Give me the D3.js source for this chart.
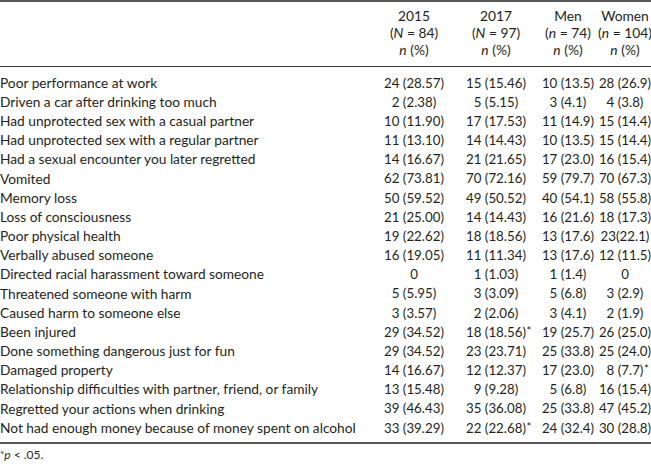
<!DOCTYPE html>
<html>
<head>
<meta charset="utf-8">
<script src="https://cdn.jsdelivr.net/npm/d3@7"></script>
<style>
  html, body { margin: 0; padding: 0; background: #fff; }
  svg { display: block; }
  text { font-family: "Lato", "Open Sans", sans-serif; fill: #231f20; }
</style>
</head>
<body>
<script>
// ---------- data ----------
const columns = ["2015", "2017", "Men", "Women"];
const columnN = ["84", "97", "74", "104"];
const columnNSymbol = ["N", "N", "n", "n"];

const rowLabels = [
  "Poor performance at work",
  "Driven a car after drinking too much",
  "Had unprotected sex with a casual partner",
  "Had unprotected sex with a regular partner",
  "Had a sexual encounter you later regretted",
  "Vomited",
  "Memory loss",
  "Loss of consciousness",
  "Poor physical health",
  "Verbally abused someone",
  "Directed racial harassment toward someone",
  "Threatened someone with harm",
  "Caused harm to someone else",
  "Been injured",
  "Done something dangerous just for fun",
  "Damaged property",
  "Relationship difficulties with partner, friend, or family",
  "Regretted your actions when drinking",
  "Not had enough money because of money spent on alcohol"
];

const n2015 = [24, 2, 10, 11, 14, 62, 50, 21, 19, 16, 0, 5, 3, 29, 29, 14, 13, 39, 33];
const p2015 = [28.57, 2.38, 11.90, 13.10, 16.67, 73.81, 59.52, 25.00, 22.62, 19.05, 0, 5.95, 3.57, 34.52, 34.52, 16.67, 15.48, 46.43, 39.29];

const n2017 = [15, 5, 17, 14, 21, 70, 49, 14, 18, 11, 1, 3, 2, 18, 23, 12, 9, 35, 22];
const p2017 = [15.46, 5.15, 17.53, 14.43, 21.65, 72.16, 50.52, 14.43, 18.56, 11.34, 1.03, 3.09, 2.06, 18.56, 23.71, 12.37, 9.28, 36.08, 22.68];

const nMen = [10, 3, 11, 10, 17, 59, 40, 16, 13, 13, 1, 5, 3, 19, 25, 17, 5, 25, 24];
const pMen = [13.5, 4.1, 14.9, 13.5, 23.0, 79.7, 54.1, 21.6, 17.6, 17.6, 1.4, 6.8, 4.1, 25.7, 33.8, 23.0, 6.8, 33.8, 32.4];

const nWomen = [28, 4, 15, 15, 16, 70, 58, 18, 23, 12, 0, 3, 2, 26, 25, 8, 16, 47, 30];
const pWomen = [26.9, 3.8, 14.4, 14.4, 15.4, 67.3, 55.8, 17.3, 22.1, 11.5, 0, 2.9, 1.9, 25.0, 24.0, 7.7, 15.4, 45.2, 28.8];

// significance markers (p < .05): [column, row index]
const significant = [["2017", 13], ["2017", 18], ["Women", 15]];
// cells printed without a space before the parenthesis in the source
const tightCells = [["Women", 8]];

// ---------- layout ----------
const W = 651, H = 466;
const counts = { "2015": n2015, "2017": n2017, "Men": nMen, "Women": nWomen };
const pcts = { "2015": p2015, "2017": p2017, "Men": pMen, "Women": pWomen };
const decimals = { "2015": 2, "2017": 2, "Men": 1, "Women": 1 };

const svg = d3.select("body").append("svg").attr("width", W).attr("height", H);

const x = d3.scaleOrdinal().domain(columns).range([414, 496, 568, 625]);
const y = d3.scalePoint().domain(d3.range(rowLabels.length)).range([83, 428]);

// font size chosen so the longest row label spans the same width as in the source
const probe = svg.append("text").attr("font-size", 13)
  .text(rowLabels[rowLabels.length - 1]);
const FS = Math.min(14.5, 13 * 356 / probe.node().getComputedTextLength());
probe.remove();
const CFS = 13.3; // cell/header font size

// rules
svg.append("line").attr("x1", 0).attr("x2", W).attr("y1", 1).attr("y2", 1)
  .attr("stroke", "#231f20").attr("stroke-width", 1.6);
svg.append("line").attr("x1", 0).attr("x2", W).attr("y1", 66.5).attr("y2", 66.5)
  .attr("stroke", "#231f20").attr("stroke-width", 0.9);
svg.append("line").attr("x1", 0).attr("x2", W).attr("y1", 443).attr("y2", 443)
  .attr("stroke", "#231f20").attr("stroke-width", 1.4);

// header
const head = svg.append("g").attr("font-size", CFS + 0.5).attr("text-anchor", "middle");
columns.forEach((c, i) => {
  head.append("text").attr("x", x(c)).attr("y", 16).attr("dy", "0.35em").text(c);
  const t2 = head.append("text").attr("x", x(c)).attr("y", 33).attr("dy", "0.35em");
  t2.append("tspan").text("(");
  t2.append("tspan").attr("font-style", "italic").text(columnNSymbol[i]);
  t2.append("tspan").text(" = " + columnN[i] + ")");
  const t3 = head.append("text").attr("x", x(c)).attr("y", 50).attr("dy", "0.35em");
  t3.append("tspan").attr("font-style", "italic").text("n");
  t3.append("tspan").text(" (%)");
});

// row labels
const labels = svg.append("g").attr("font-size", FS);
labels.selectAll("text").data(rowLabels).join("text")
  .attr("x", 0).attr("y", (d, i) => y(i)).attr("dy", "0.35em").text(d => d);

// cells
const cells = svg.append("g").attr("font-size", CFS).attr("text-anchor", "middle");
columns.forEach(c => {
  rowLabels.forEach((_, i) => {
    const n = counts[c][i];
    const tight = tightCells.some(([cc, r]) => cc === c && r === i);
    const s = n === 0 ? "0" : n + (tight ? "" : " ") + "(" + pcts[c][i].toFixed(decimals[c]) + ")";
    const t = cells.append("text").attr("x", x(c)).attr("y", y(i)).attr("dy", "0.35em").text(s);
    if (significant.some(([cc, r]) => cc === c && r === i)) {
      const w = t.node().getComputedTextLength();
      cells.append("text").attr("text-anchor", "start")
        .attr("x", x(c) + w / 2 + 0.5).attr("y", y(i) - 1).attr("dy", "0.35em")
        .attr("font-size", CFS * 0.85).attr("fill", "#555").text("*");
    }
  });
});

// footnote
const fn = svg.append("text").attr("x", 0).attr("y", 459).attr("dy", "0.35em").attr("font-size", 12);
fn.append("tspan").attr("font-size", 10).attr("dy", "-0.1em").text("*");
fn.append("tspan").attr("font-style", "italic").attr("dy", "0.1em").text("p");
fn.append("tspan").text(" < .05.");
</script>
</body>
</html>
